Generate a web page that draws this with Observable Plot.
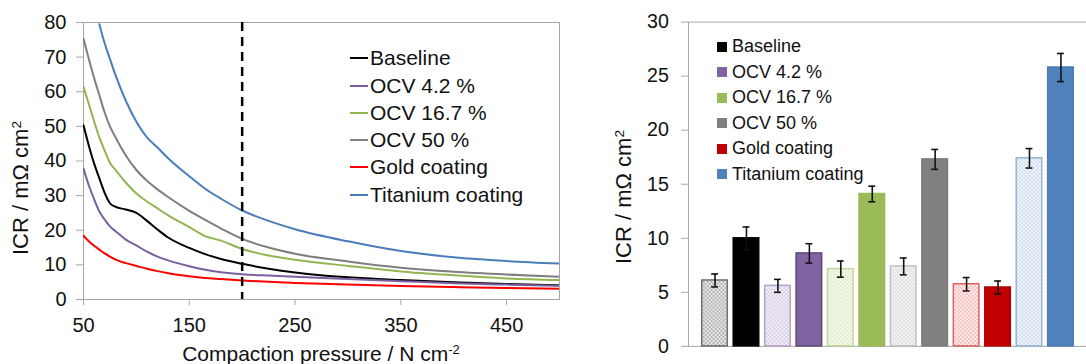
<!DOCTYPE html>
<html>
<head>
<meta charset="utf-8">
<script src="https://cdn.jsdelivr.net/npm/d3@7"></script>
<script src="https://cdn.jsdelivr.net/npm/@observablehq/plot@0.6"></script>
<style>
  body { margin: 0; background: #fff; }
  #wrap { position: relative; width: 1086px; height: 364px; overflow: hidden; background: #fff;
          font-family: "Liberation Sans", Arial, sans-serif; color: #111; }
  .panel { position: absolute; top: 0; }
  .ytitle { position: absolute; white-space: nowrap; font-size: 22px; line-height: 22px;
            transform: translate(-50%, -50%) rotate(-90deg); }
  .xtitle { position: absolute; white-space: nowrap; font-size: 21px; line-height: 21px;
            transform: translateX(-50%); }
  .sup { font-size: 0.62em; position: relative; top: -0.55em; }
  .legend { position: absolute; }
  .legend .row { display: flex; align-items: center; white-space: nowrap; }
</style>
</head>
<body>
<div id="wrap">
  <div id="left" class="panel" style="left:0px"></div>
  <div id="right" class="panel" style="left:575px"></div>
  <div class="ytitle" style="left:22px; top:188px">ICR / mΩ cm<span class="sup">2</span></div>
  <div class="ytitle" style="left:625px; top:197px">ICR / mΩ cm<span class="sup">2</span></div>
  <div class="xtitle" style="left:321px; top:343px">Compaction pressure / N cm<span class="sup">-2</span></div>
  <div id="legendLeft" class="legend" style="left:350px; top:44.6px; font-size:21px;"></div>
  <div id="legendRight" class="legend" style="left:717px; top:34px; font-size:18px;"></div>
</div>
<script>
// ---------- data ----------
const seriesNames = ["Baseline", "OCV 4.2 %", "OCV 16.7 %", "OCV 50 %", "Gold coating", "Titanium coating"];

// Left panel: ICR vs compaction pressure
const pressure     = [50, 55, 60, 65, 70, 75, 80, 90, 100, 110, 120, 130, 150, 165, 180, 200, 225, 250, 300, 350, 400, 450, 500];
const icrBaseline  = [50.3, 44.5, 39.3, 35.0, 30.8, 27.8, 26.8, 26.0, 25.0, 22.7, 20.2, 17.9, 14.9, 13.1, 11.7, 10.3, 8.9, 7.8, 6.4, 5.6, 5.0, 4.5, 4.1];
const icrOcv42     = [37.8, 33.0, 29.0, 25.4, 23.1, 21.1, 19.8, 17.3, 15.6, 13.8, 12.4, 11.3, 9.6, 8.6, 7.9, 7.3, 6.9, 6.6, 5.9, 5.3, 4.7, 4.3, 4.0];
const icrOcv167    = [61.4, 56.5, 51.5, 46.8, 43.0, 39.5, 37.5, 33.8, 30.6, 28.3, 26.3, 24.3, 20.9, 18.3, 17.0, 14.6, 12.7, 11.5, 9.7, 8.1, 7.0, 6.1, 5.6];
const icrOcv50     = [75.3, 69.5, 64.0, 59.0, 54.0, 50.0, 47.0, 41.6, 37.4, 34.3, 31.8, 29.6, 25.6, 23.0, 20.5, 17.5, 15.0, 13.2, 11.0, 9.2, 8.0, 7.2, 6.6];
const icrGold      = [18.4, 16.8, 15.5, 14.4, 13.3, 12.4, 11.6, 10.5, 9.7, 8.9, 8.2, 7.6, 6.7, 6.2, 5.9, 5.5, 5.1, 4.8, 4.3, 3.9, 3.6, 3.3, 3.1];
const icrTitanium  = [null, null, null, 79.5, 74.0, 69.5, 65.0, 57.4, 51.3, 46.8, 43.9, 40.8, 35.6, 32.0, 29.1, 25.7, 22.7, 20.3, 16.8, 14.0, 12.2, 11.1, 10.4];
const referencePressure = [200];
const xTicksLeft  = [50, 150, 250, 350, 450];
const yTicksLeft  = [0, 10, 20, 30, 40, 50, 60, 70, 80];

// Right panel: ICR at 200 N cm-2, two sets per coating
const barSets   = ["set A", "set B"];
const icrSetA   = [6.1, 5.6, 7.15, 7.4, 5.75, 17.4];
const errSetA   = [0.6, 0.6, 0.75, 0.78, 0.62, 0.9];
const icrSetB   = [10.0, 8.6, 14.1, 17.3, 5.45, 25.8];
const errSetB   = [1.05, 0.9, 0.72, 0.92, 0.6, 1.3];
const yTicksRight = [0, 5, 10, 15, 20, 25, 30];

// ---------- styles ----------
const FONT = '"Liberation Sans", Arial, sans-serif';
const lineColors  = ["#000000", "#7b5fa0", "#92b552", "#7f7f7f", "#ff0000", "#4a7ebb"];
const solidFill   = ["#000000", "#8064a2", "#9bbb59", "#808080", "#c00000", "#4f81bd"];
const solidStroke = ["#000000", "#5b4577", "#9bbb59", "#7a7a7a", "#b00000", "#4a7ab5"];
const hatchTint   = ["#8c8c8c", "#c5b8d8", "#d3e2b3", "#cfcfcf", "#f2a0a0", "#b9cde6"];
const hatchStroke = ["#6e6e6e", "#b3a2c7", "#c3d69b", "#bfbfbf", "#e06060", "#95b3d7"];
const axisGray = "#a6a6a6";

// checkered pattern defs
const defsSvg = d3.select("#wrap").append("svg")
  .attr("width", 0).attr("height", 0).style("position", "absolute");
const defs = defsSvg.append("defs");
hatchTint.forEach((c, i) => {
  const p = defs.append("pattern").attr("id", `hatch-${i}`)
    .attr("patternUnits", "userSpaceOnUse").attr("width", 4).attr("height", 4);
  p.append("rect").attr("width", 4).attr("height", 4).attr("fill", c).attr("fill-opacity", 0.18);
  p.append("rect").attr("width", 2).attr("height", 2).attr("fill", c).attr("fill-opacity", 0.6);
  p.append("rect").attr("x", 2).attr("y", 2).attr("width", 2).attr("height", 2).attr("fill", c).attr("fill-opacity", 0.6);
});

// ---------- tables ----------
const seriesValues = [icrBaseline, icrOcv42, icrOcv167, icrOcv50, icrGold, icrTitanium];
const lineRows = seriesNames.flatMap((s, i) =>
  pressure.map((p, j) => ({series: s, pressure: p, icr: seriesValues[i][j]})))
  .filter(d => d.icr != null);

const barRows = [];
seriesNames.forEach((s, i) => {
  barRows.push({key: `${s}|${barSets[0]}`, series: s, index: i, set: barSets[0], icr: icrSetA[i], err: errSetA[i]});
  barRows.push({key: `${s}|${barSets[1]}`, series: s, index: i, set: barSets[1], icr: icrSetB[i], err: errSetB[i]});
});
const barKeys = barRows.map(d => d.key);

// ---------- left chart ----------
const left = Plot.plot({
  width: 575, height: 364,
  marginLeft: 83, marginRight: 16, marginTop: 22, marginBottom: 65,
  style: {fontFamily: FONT, background: "transparent", overflow: "visible"},
  x: {domain: [50, 500]},
  y: {domain: [0, 80]},
  color: {domain: seriesNames, range: lineColors},
  marks: [
    Plot.axisY({ticks: yTicksLeft, tickSize: 7, tickPadding: 10, fontSize: 20, stroke: axisGray, fill: "#111", label: null}),
    Plot.axisX({ticks: xTicksLeft, tickSize: 6, tickPadding: 12, fontSize: 20, stroke: axisGray, fill: "#111", label: null}),
    Plot.frame({stroke: axisGray}),
    Plot.line(lineRows, {x: "pressure", y: "icr", z: "series", stroke: "series", strokeWidth: 2, curve: "monotone-x", clip: true}),
    Plot.ruleX(referencePressure, {stroke: "#000", strokeWidth: 2.5, strokeDasharray: "9,6"})
  ]
});
document.getElementById("left").appendChild(left);

// ---------- right chart ----------
const right = Plot.plot({
  width: 520, height: 364,
  marginLeft: 115, marginRight: 0, marginTop: 22, marginBottom: 12,
  style: {fontFamily: FONT, background: "transparent", overflow: "visible"},
  x: {type: "band", domain: barKeys, paddingInner: 0.19, paddingOuter: 0.405, axis: null},
  y: {domain: [0, 30]},
  color: {type: "identity"},
  marks: [
    Plot.axisY({ticks: yTicksRight, tickSize: 7, tickPadding: 13, fontSize: 20, stroke: axisGray, fill: "#111", label: null}),
    Plot.frame({stroke: axisGray}),
    Plot.barY(barRows, {
      x: "key", y: "icr",
      fill: d => d.set === barSets[0] ? `url(#hatch-${d.index})` : solidFill[d.index],
      stroke: d => d.set === barSets[0] ? hatchStroke[d.index] : solidStroke[d.index],
      strokeWidth: 1.5
    }),
    Plot.ruleX(barRows, {x: "key", y1: d => d.icr - d.err, y2: d => d.icr + d.err, stroke: "#111", strokeWidth: 1.6}),
    Plot.tickY(barRows, {x: "key", y: d => d.icr + d.err, stroke: "#111", strokeWidth: 1.6, insetLeft: 9.5, insetRight: 9.5}),
    Plot.tickY(barRows, {x: "key", y: d => d.icr - d.err, stroke: "#111", strokeWidth: 1.6, insetLeft: 9.5, insetRight: 9.5})
  ]
});
document.getElementById("right").appendChild(right);

// ---------- legends ----------
const legL = d3.select("#legendLeft");
seriesNames.forEach((s, i) => {
  const r = legL.append("div").attr("class", "row").style("height", "27.3px");
  r.append("span").style("display", "inline-block").style("width", "18px").style("height", "2px")
    .style("background", lineColors[i]).style("margin-right", "2px");
  r.append("span").text(s);
});
const legR = d3.select("#legendRight");
seriesNames.forEach((s, i) => {
  const r = legR.append("div").attr("class", "row").style("height", "25.5px");
  r.append("span").style("display", "inline-block").style("width", "10px").style("height", "10px")
    .style("background", solidFill[i]).style("margin-right", "5px");
  r.append("span").text(s);
});
</script>
</body>
</html>
